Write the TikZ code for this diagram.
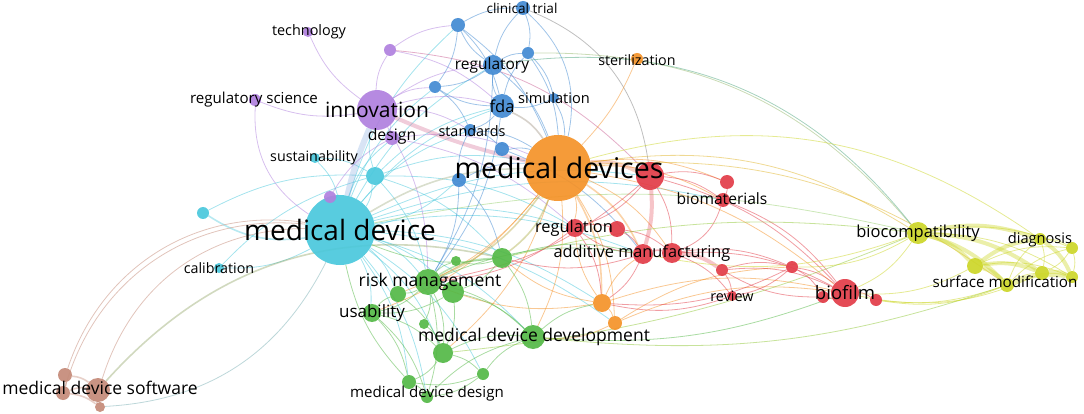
\documentclass[tikz,border=0pt]{standalone}
\usepackage{fontspec}
\setmainfont{Open Sans}
\usetikzlibrary{backgrounds}

\definecolor{kwcyan}{RGB}{74,200,220}
\definecolor{kworange}{RGB}{244,146,40}
\definecolor{kwpurple}{RGB}{176,128,222}
\definecolor{kwblue}{RGB}{66,138,210}
\definecolor{kwred}{RGB}{226,60,72}
\definecolor{kwgreen}{RGB}{84,184,70}
\definecolor{kwyellow}{RGB}{204,214,40}
\definecolor{kwbrown}{RGB}{196,138,120}

\begin{document}
\begin{tikzpicture}[x=1pt,y=-1pt,
kw/.style={
	% The shape:
	circle, inner sep=0pt,
	% The filling:
	fill opacity=0.92},
kwlabel/.style={inner sep=0pt, text=black},
% links between keywords
link/.style={line width=0.8pt, draw opacity=0.5, bend left=15},
midlink/.style={link, line width=1.6pt, draw opacity=0.4},
widelink/.style={link, line width=4pt, draw opacity=0.3}]

\useasboundingbox (0,0) rectangle (1084,414);

% keywords: name/x/y/radius/cluster
\foreach \n/\x/\y/\r/\c in {
  mdev/340/230/35/kwcyan, cy1/375/176/9/kwcyan, cy2/203/213/6/kwcyan,
  calib/219/268/5/kwcyan, sust/315/158/5/kwcyan,
  mdevs/558/168/33/kworange, steril/637/59/6/kworange,
  or1/602/303/9/kworange, or2/615/323/7/kworange,
  innov/377/110/20/kwpurple, techn/308/32/5/kwpurple, pu1/390/50/6/kwpurple,
  regsci/255/100/6/kwpurple, design/392/138/7/kwpurple, pu2/330/197/6/kwpurple,
  fda/502/106/12/kwblue, regul/493/65/10/kwblue, clin/523/8/7/kwblue,
  bl1/458/25/7/kwblue, bl2/528/53/6/kwblue, bl3/435/87/6/kwblue,
  stand/470/130/6/kwblue, bl4/502/149/7/kwblue, bl5/459/180/7/kwblue,
  simul/554/98/5/kwblue,
  re1/650/176/14/kwred, biomat/723/200/7/kwred, re2/727/182/7/kwred,
  regn/575/228/9/kwred, re3/617/229/8/kwred, addm/643/254/10/kwred,
  re4/672/253/10/kwred, re5/722/270/6/kwred, review/732/296/5/kwred,
  re6/792/267/6/kwred, biofilm/845/293/14/kwred, re7/823/297/6/kwred,
  re8/876/300/6/kwred,
  risk/428/282/13/kwgreen, gr1/456/261/5/kwgreen, gr2/502/258/10/kwgreen,
  gr3/453/292/11/kwgreen, gr4/398/294/8/kwgreen, usab/372/313/9/kwgreen,
  gr5/424/324/5/kwgreen, mdd/533/337/12/kwgreen, gr6/443/353/10/kwgreen,
  gr7/483/374/6/kwgreen, gr8/409/382/7/kwgreen, mdesign/427/397/6/kwgreen,
  biocomp/918/233/11/kwyellow, ye1/975/266/8/kwyellow, diag/1040/239/6/kwyellow,
  ye2/1072/248/6/kwyellow, ye3/1042/273/7/kwyellow, ye4/1072/277/6/kwyellow,
  surf/1007/285/7/kwyellow,
  sw1/65/375/7/kwbrown, sw2/63/393/7/kwbrown, mdsw/98/390/12/kwbrown,
  sw3/100/407/5/kwbrown}
  \node[kw, fill=\c, minimum size={2*\r pt}] (\n) at (\x,\y) {};

\begin{scope}[on background layer]
% cyan cluster
\foreach \a/\b in {mdev/calib, sust/mdev, cy1/mdev, mdev/fda, mdev/regul, mdev/bl3,
  mdev/bl1, mdev/stand, bl5/mdev, mdev/risk, mdev/usab, mdev/gr4, mdev/mdesign,
  mdev/gr8, mdev/mdd, mdev/addm, mdev/regn, cy1/innov, cy1/mdevs, cy1/fda,
  cy1/risk, sust/cy1, cy2/cy1, mdev/design, calib/cy1, mdev/or1, mdev/gr6, mdev/gr3,
  mdev/re1, mdev/or2, cy1/regn, mdev/gr7, cy1/gr2, mdev/biomat}
  \draw[link, kwcyan] (\a) to (\b);
\draw[midlink, kwcyan, bend left=20] (mdev) to (cy2);
\draw[midlink, kwcyan!50!kworange] (mdev) to (mdevs);
\draw[widelink, line width=6pt, kwcyan!50!kwpurple, bend left=5] (mdev) to (innov);
\draw[link, kwyellow!60!kwcyan, bend right=12] (biocomp) to (mdev);

% software cluster
\draw[link, kwbrown, bend left=40] (sw1) to (mdev);
\draw[link, kwbrown, bend left=40] (sw2) to (mdev);
\draw[link, kwbrown, bend left=36] (mdsw) to (mdev);
\draw[midlink, kwbrown!50!kwgreen, bend left=30] (mdsw) to (gr2);
\draw[link, kwcyan!60!kwbrown, bend left=30] (mdev) to (sw3);
\foreach \a/\b in {sw1/mdsw, sw2/mdsw, sw3/mdsw, sw1/sw2, sw2/sw3}
  \draw[midlink, kwbrown] (\a) to (\b);

% purple cluster
\foreach \a/\b in {innov/techn, innov/pu1, innov/regsci, innov/design, innov/fda,
  innov/regul, innov/bl3, innov/stand, innov/risk, pu1/fda, pu1/bl1, pu2/mdev,
  pu2/design, design/mdevs, design/regn}
  \draw[link, kwpurple] (\a) to (\b);
\draw[link, kwpurple, bend left=30] (mdev) to (regsci);
\draw[widelink, kwpurple!40!kwred, bend right=5] (innov) to (mdevs);
\draw[link, kwpurple!50!kwred, bend left=20] (pu1) to (re1);

% blue cluster
\foreach \a/\b in {fda/regul, fda/bl2, fda/stand, fda/bl3, regul/bl1, regul/bl2,
  regul/clin, regul/bl3, regul/mdevs, bl1/clin, bl1/bl3, bl1/mdevs, bl3/stand,
  stand/bl4, stand/mdevs, bl4/mdevs, bl5/mdevs, bl5/stand, bl2/simul, simul/fda,
  simul/mdevs, bl2/mdevs, regul/risk, fda/risk, bl5/risk, bl4/addm, clin/bl2,
  bl1/fda, bl5/gr2}
  \draw[link, kwblue] (\a) to (\b);
\draw[midlink, kwblue!50!kworange] (fda) to (mdevs);
\draw[link, kwblue, bend left=30] (clin) to (mdevs);
\draw[link, gray, bend left=30] (clin) to (re1);
\draw[link, kwblue!40!kwyellow, bend left=25] (bl2) to (biocomp);
\draw[link, kwblue!40!kwgreen, bend left=30] (regul) to (biocomp);

% orange cluster
\foreach \a/\b in {mdevs/or2, mdevs/regn, mdevs/biomat, mdevs/re2, mdevs/biofilm,
  mdevs/mdd, mdevs/re4, mdevs/usab, or1/or2, or1/addm, or1/risk, or1/regn,
  or2/mdd, or1/gr2, or1/biofilm, or2/re6, mdevs/gr6, mdevs/gr4, or2/biofilm}
  \draw[link, kworange] (\a) to (\b);
\draw[link, kworange, bend left=10] (steril) to (mdevs);
\draw[midlink, kworange] (mdevs) to (or1);
\draw[widelink, kworange!50!kwred] (mdevs) to (re1);
\draw[midlink, kworange] (mdevs) to (addm);
\draw[midlink, kworange!60!kwgreen] (mdevs) to (risk);
\draw[midlink, kworange!50!kwgreen] (mdevs) to (gr2);
\draw[link, kworange!50!kwyellow, bend left=20] (mdevs) to (biocomp);
\draw[link, kworange!50!kwyellow, bend left=20] (mdevs) to (surf);

% red cluster
\foreach \a/\b in {re1/biomat, re1/re2, re1/biofilm, re1/regn, re1/re4, addm/regn,
  regn/re3, re3/re4, re3/addm, re4/biofilm, re4/review, re5/review, re5/biofilm,
  re5/re6, re6/review, re6/biofilm, re6/re7, re2/biomat, biomat/biofilm,
  biofilm/re7, biofilm/re8, re7/re5, addm/or1, regn/or1, regn/risk, addm/gr2,
  review/or1, re6/or1, re4/re6, re1/risk}
  \draw[link, kwred] (\a) to (\b);
\draw[widelink, kwred, bend left=10] (re1) to (addm);
\draw[midlink, kwred] (addm) to (re4);
\draw[widelink, kwred] (re4) to (re5);
\draw[link, kwred, bend left=25] (biomat) to (re4);

% green cluster
\foreach \a/\b in {risk/gr1, risk/gr4, risk/usab, risk/mdd, risk/gr6, risk/mdesign,
  risk/gr5, usab/gr4, usab/gr8, usab/gr6, usab/mdesign, gr6/mdd, gr6/gr7,
  gr8/mdesign, gr6/gr8, gr7/mdd, gr2/gr3, gr2/mdd, gr2/gr1, gr3/mdd, gr3/usab,
  gr5/gr6, gr8/mdev, gr2/mdev, mdesign/mdd, gr7/gr8, gr3/gr6, gr4/gr6, gr7/mdesign,
  mdd/or1, gr2/addm, risk/addm}
  \draw[link, kwgreen] (\a) to (\b);
\draw[midlink, kwgreen] (risk) to (gr3);
\draw[midlink, kwgreen] (risk) to (gr2);
\draw[link, kwgreen, bend right=12] (mdd) to (biofilm);
\draw[link, kwgreen!50!kwyellow, bend right=12] (mdd) to (surf);
\draw[link, kwgreen!50!kwyellow, bend right=8] (gr6) to (biocomp);
\draw[link, kwgreen!50!kwyellow, bend left=10] (gr2) to (biocomp);

% yellow cluster
\foreach \a/\b in {biocomp/ye2, biocomp/ye4, ye1/ye2, ye1/ye4, surf/diag, surf/ye2,
  diag/ye2, ye2/ye4, diag/ye3, surf/ye3, biocomp/re6, biocomp/addm,
  biocomp/biofilm, surf/biofilm, ye1/biofilm, surf/re8, ye3/re8, ye2/ye3}
  \draw[link, kwyellow] (\a) to (\b);
\foreach \a/\b in {biocomp/ye1, biocomp/surf, ye1/surf, biocomp/ye3, biocomp/diag,
  ye1/diag, surf/ye4, ye3/ye4, ye1/ye3, diag/ye4}
  \draw[widelink, kwyellow, draw opacity=0.4] (\a) to (\b);
\draw[link, kwyellow, bend right=25] (diag) to (mdevs);
\end{scope}

% labels: name/x/y/size/text
\foreach \n/\x/\y/\s/\t in {
  mdev/340/230/28/medical device, mdevs/559/168/28.5/medical devices,
  innov/377/110/21/innovation,
  risk/430/282/17.5/risk management, mdd/534/337/17.5/medical device development,
  mdsw/100/388/17.5/medical device software, biofilm/845/293/18.5/biofilm,
  usab/372/313/17/usability,
  regul/492/65/15.5/regulatory, fda/502/106/16.5/fda,
  biocomp/918/233/16.5/biocompatibility, addm/642/253/16.3/additive manufacturing,
  regn/574/228/16.4/regulation, surf/1005/282/15.2/surface modification,
  mdesign/427/394/15.1/medical device design, biomat/722/199/15.6/biomaterials,
  regsci/254/100/15.1/regulatory science, design/392/136/15.8/design,
  clin/522/8/13.6/clinical trial, techn/309/32/14.4/technology,
  review/732/296/14.4/review, simul/554/98/14.6/simulation,
  stand/472/131/14.4/standards, steril/637/60/14.3/sterilization,
  diag/1040/240/14.6/diagnosis, sust/314/158/14.3/sustainability,
  calib/219/268/14.3/calibration}
  \node[kwlabel, font=\fontsize{\s}{\s}\selectfont] (t-\n) at (\x,\y) {\t};

\end{tikzpicture}
\end{document}
